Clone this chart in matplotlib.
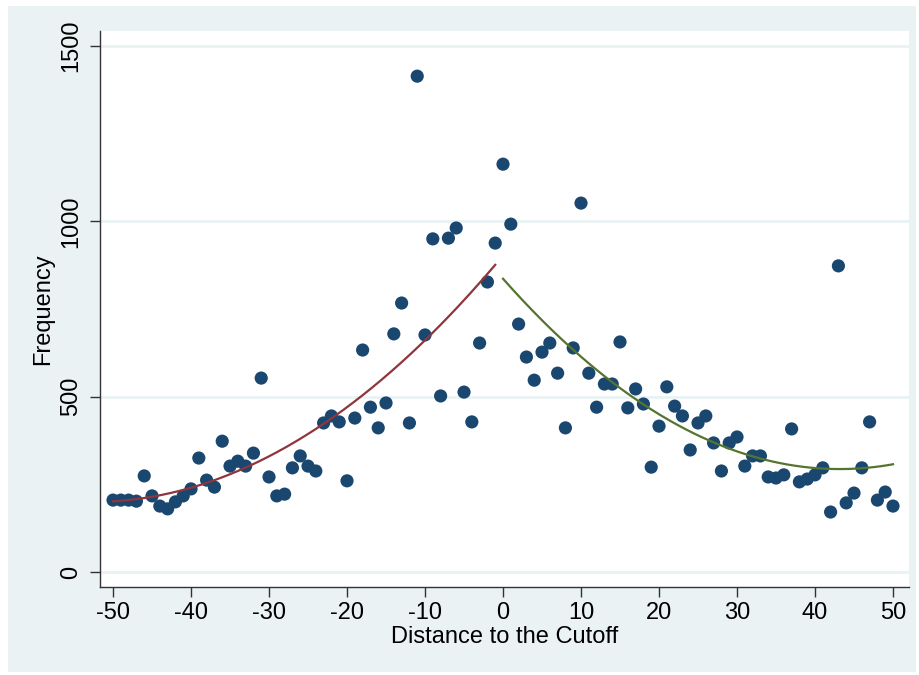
import matplotlib
matplotlib.use('Agg')

import matplotlib.pyplot as plt
import numpy as np
from matplotlib.patches import Rectangle

# distance to the cutoff and count of observations in each bin
distance = np.arange(-50, 51)
frequency = [
    205, 205, 205, 202, 274, 217, 188, 180, 200, 217,   # -50 .. -41
    237, 325, 262, 242, 373, 302, 316, 302, 339, 553,   # -40 .. -31
    271, 217, 222, 297, 331, 302, 288, 425, 445, 428,   # -30 .. -21
    260, 439, 633, 470, 411, 482, 679, 767, 425, 1414,  # -20 .. -11
    676, 950, 502, 952, 981, 513, 428, 653, 827, 938,   # -10 .. -1
    1163,                                               # 0
    992, 707, 613, 547, 627, 653, 567, 411, 639, 1052,  # 1 .. 10
    567, 470, 536, 536, 656, 468, 522, 479, 299, 416,   # 11 .. 20
    528, 473, 445, 348, 425, 445, 368, 288, 368, 385,   # 21 .. 30
    302, 331, 331, 271, 268, 277, 408, 257, 265, 277,   # 31 .. 40
    297, 171, 873, 197, 225, 297, 428, 205, 228, 188,   # 41 .. 50
]
frequency = np.array(frequency)

xticks = np.arange(-50, 51, 10)
yticks = [0, 500, 1000, 1500]

navy = '#1a476f'
maroon = '#90353b'
green = '#55752f'
bg = '#eaf2f3'

plt.rcParams['font.family'] = ['Liberation Sans', 'DejaVu Sans']
plt.rcParams['axes.unicode_minus'] = False

fig = plt.figure(figsize=(9.19, 6.75), dpi=100, facecolor='white')
fig.patches.append(Rectangle((8 / 919, 3 / 675), 908 / 919, 666 / 675,
                             transform=fig.transFigure, facecolor=bg,
                             edgecolor='none', zorder=-10))

ax = fig.add_axes([100 / 919, 88 / 675, 809 / 919, 556 / 675])
ax.set_facecolor('white')

for y in yticks:
    ax.axhline(y, color=bg, lw=2.0, zorder=0)

ax.scatter(distance, frequency, s=90, color=navy, edgecolors='none', zorder=3)

# quadratic fits on each side of the cutoff
left = distance < 0
right = distance >= 0
xl = np.linspace(-50, -1, 200)
xr = np.linspace(0, 50, 200)
ax.plot(xl, np.polyval(np.polyfit(distance[left], frequency[left], 2), xl),
        color=maroon, lw=1.6, zorder=4)
ax.plot(xr, np.polyval(np.polyfit(distance[right], frequency[right], 2), xr),
        color=green, lw=1.6, zorder=4)

ax.set_xlim(-51.67, 52.05)
ax.set_ylim(-42.8, 1542.8)
ax.set_xticks(xticks)
ax.set_yticks(yticks)
ax.set_yticklabels([str(v) for v in yticks], rotation=90, va='center')

for s in ['top', 'right']:
    ax.spines[s].set_visible(False)
for s in ['left', 'bottom']:
    ax.spines[s].set_color('#333333')
    ax.spines[s].set_linewidth(1.0)

ax.tick_params(axis='both', length=7, width=1, color='#333333',
               labelsize=17, colors='black')
ax.tick_params(axis='x', pad=4)
ax.tick_params(axis='y', pad=6)

ax.set_xlabel('Distance to the Cutoff', fontsize=17, labelpad=1)
ax.set_ylabel('Frequency', fontsize=17, labelpad=4)

fig.savefig('out.png', dpi=100, facecolor=fig.get_facecolor())
